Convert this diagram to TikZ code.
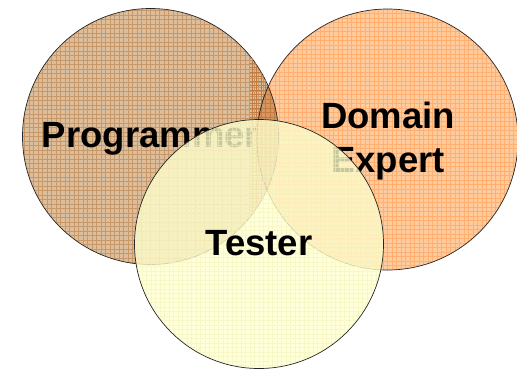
\documentclass[tikz,border=0pt]{standalone}
\usepackage{fontspec}
\setmainfont{Liberation Sans}
\definecolor{progbase}{HTML}{DDBE9C}
\definecolor{progline}{HTML}{C89868}
\definecolor{dombase}{HTML}{FFCA9C}
\definecolor{domline}{HTML}{FFB070}
\definecolor{lensbase}{HTML}{DA955E}
\definecolor{lensline}{HTML}{C27C42}
\definecolor{tesbase}{HTML}{FFFFCE}
\definecolor{tesline}{HTML}{F4F2BC}
\begin{document}
\begin{tikzpicture}[x=1pt,y=-1pt,
  venn/.style={circle, draw=black!85, line width=0.7pt, inner sep=0pt},
  gridded/.style 2 args={fill=#1, path picture={
     \draw[#2, line width=0.3pt, step=4.5pt]
       (path picture bounding box.south west) grid (path picture bounding box.north east);}},
  lbl/.style={font=\fontsize{36.5}{44}\selectfont\bfseries, text=black, align=center}]
\useasboundingbox (0,0) rectangle (517,368);
% Programmer
\node[venn, minimum size=256pt, gridded={progbase}{progline}] (prog) at (150.5,136.5) {};
\node[lbl, anchor=base] (progtxt) at (150.5,147) {Programmer};
% Domain Expert
\node[venn, minimum size=261pt, gridded={dombase}{domline}] (dom) at (387.5,139.5) {};
\begin{scope}
  \clip (prog.center) circle (128pt);
  \fill[lensbase] (dom.center) circle (130.5pt);
  \draw[lensline, line width=0.3pt, step=4.5pt] (250,0) grid (290,300);
  \draw[black!85, line width=0.7pt] (dom.center) circle (130.5pt);
\end{scope}
\begin{scope}
  \clip (dom.center) circle (130.5pt);
  \draw[black!85, line width=0.7pt] (prog.center) circle (128pt);
\end{scope}
\node[lbl] (domtxt) at (388,141) {Domain\\Expert};
% Tester
\node[venn, minimum size=249pt, fill=tesbase, fill opacity=0.78, draw opacity=1,
  path picture={\draw[tesline, opacity=0.6, line width=0.3pt, step=4.5pt]
    (path picture bounding box.south west) grid (path picture bounding box.north east);}] (tes) at (259,244) {};
\node[lbl, anchor=base] (testxt) at (259,255) {Tester};
\end{tikzpicture}
\end{document}
